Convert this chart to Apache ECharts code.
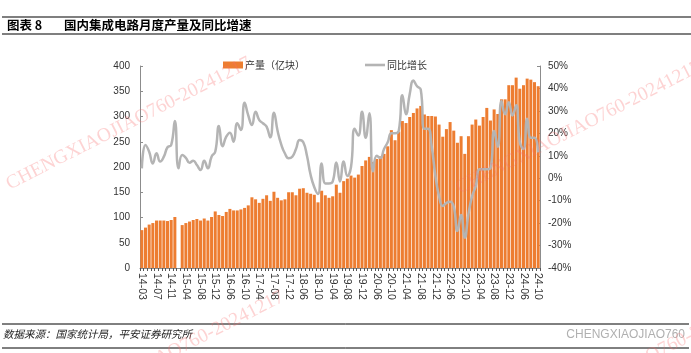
<!DOCTYPE html>
<html>
<head>
<meta charset="utf-8">
<script src="https://cdn.jsdelivr.net/npm/echarts@6/dist/echarts.min.js"></script>
<style>
  html, body { margin: 0; padding: 0; background: #fff; }
  #chart { width: 691px; height: 353px; }
</style>
</head>
<body>
<div id="chart"></div>
<script>
// 月份（每年 1-2 月合并不单列，15-02 只有同比）
const months = [
  '14-03','14-04','14-05','14-06','14-07','14-08','14-09','14-10','14-11','14-12',
  '15-02',
  '15-03','15-04','15-05','15-06','15-07','15-08','15-09','15-10','15-11','15-12',
  '16-03','16-04','16-05','16-06','16-07','16-08','16-09','16-10','16-11','16-12',
  '17-03','17-04','17-05','17-06','17-07','17-08','17-09','17-10','17-11','17-12',
  '18-03','18-04','18-05','18-06','18-07','18-08','18-09','18-10','18-11','18-12',
  '19-03','19-04','19-05','19-06','19-07','19-08','19-09','19-10','19-11','19-12',
  '20-03','20-04','20-05','20-06','20-07','20-08','20-09','20-10','20-11','20-12',
  '21-03','21-04','21-05','21-06','21-07','21-08','21-09','21-10','21-11','21-12',
  '22-03','22-04','22-05','22-06','22-07','22-08','22-09','22-10','22-11','22-12',
  '23-03','23-04','23-05','23-06','23-07','23-08','23-09','23-10','23-11','23-12',
  '24-03','24-04','24-05','24-06','24-07','24-08','24-09','24-10'
];
// 产量（亿块）
const output = [
  75, 80, 86, 89, 94, 94, 94, 93, 95, 101,
  null,
  85, 89, 92, 95, 97, 94, 98, 94, 101, 112,
  105, 103, 111, 117, 114, 114, 116, 119, 124, 140,
  136, 129, 137, 144, 133, 151, 139, 134, 136, 150,
  150, 144, 157, 158, 149, 147, 145, 130, 153, 144,
  139, 142, 165, 149, 172, 177, 183, 179, 185, 202,
  213, 220, 210, 216, 221, 226, 241, 273, 253, 270,
  291, 287, 299, 307, 316, 321, 304, 301, 301, 300,
  284, 260, 275, 289, 272, 248, 261, 226, 261, 284,
  294, 282, 299, 317, 292, 314, 305, 334, 334, 362,
  362, 377, 355, 362, 375, 373, 368, 360
];
// 同比增长（%）
const yoy = [
  4.4, 14.8, 11.8, 6.6, 11.1, 7.4, 9.6, 13.8, 14.8, 25.5,
  4.4,
  10.3, 9.1, 6.9, 7.8, 5.9, 3.7, 7.8, 4.4, 9.6, 11.8,
  23.3, 14.3, 18.5, 20.3, 16.3, 24.5, 21.5, 33.6, 28, 23.7,
  29.6, 25.9, 24.5, 23, 18.2, 29.2, 21, 15, 11, 8.9,
  9.6, 13, 17, 16, 10, 1.4, -4, -7, 6.6, -2.3,
  -2.3, -1.5, 7, -1.5, 7.5, 1, 5, 22, 19, 29.6,
  18, 29, 3, 10, 9, 13, 16, 20, 20, 21,
  37, 28.5, 37.5, 43.5, 41, 39.5, 22, 22, 14, 1,
  -8, -12.4, -11, -10.5, -12.7, -23.5, -16.4, -26.5, -16, -8,
  -3.5, 4, 4, 4, 4.5, 21, 14, 34.4, 28.5, 33.9,
  28, 32.5, 16, 13, 26.5, 18, 18, 11.5
];

const orange = '#ED7D31';
const grey = '#B4B4B4';
const axisGrey = '#8C8C8C';
const wmText = 'CHENGXIAOJIAO760-20241217';
const wmStyle = { text: wmText, fill: 'rgba(250,110,110,0.3)', font: '19.5px "Liberation Serif"', textVerticalAlign: 'bottom' };

var myChart = echarts.init(document.getElementById('chart'));
myChart.setOption({
  animation: false,
  textStyle: { fontFamily: '"Liberation Sans", Arial, sans-serif', color: '#333' },
  grid: { left: 140, right: 151, top: 66, bottom: 85 },
  legend: {
    left: 223, top: 60, padding: 0,
    itemGap: 60, itemWidth: 20, itemHeight: 7,
    textStyle: { fontSize: 10, color: '#333', fontFamily: '"Noto Sans CJK SC"', padding: [0, 0, 0, -3] },
    data: [
      { name: '产量（亿块）', icon: 'rect' },
      { name: '同比增长', icon: 'path://M0,0H20V2.6H0Z' }
    ]
  },
  xAxis: {
    type: 'category',
    data: months,
    axisLine: { lineStyle: { color: axisGrey } },
    axisTick: { show: true, interval: 0, length: 3, lineStyle: { color: '#555' } },
    axisLabel: { interval: 3, rotate: -90, fontSize: 10.5, color: '#333', margin: 5 }
  },
  yAxis: [{
    type: 'value', min: 0, max: 400, interval: 50,
    axisLine: { show: true, lineStyle: { color: axisGrey } },
    axisTick: { show: true, inside: true, length: 3, lineStyle: { color: axisGrey } },
    splitLine: { show: false },
    axisLabel: { fontSize: 10, color: '#333', margin: 10 }
  }, {
    type: 'value', min: -40, max: 50, interval: 10,
    axisLine: { show: true, lineStyle: { color: axisGrey } },
    axisTick: { show: true, inside: true, length: 3, lineStyle: { color: axisGrey } },
    splitLine: { show: false },
    axisLabel: { fontSize: 10, color: '#333', margin: 8, formatter: '{value}%' }
  }],
  series: [{
    name: '产量（亿块）',
    type: 'bar',
    data: output,
    barCategoryGap: '18%',
    itemStyle: { color: orange }
  }, {
    name: '同比增长',
    type: 'line',
    yAxisIndex: 1,
    data: yoy,
    smooth: true,
    symbol: 'none',
    lineStyle: { color: grey, width: 2.5 },
    itemStyle: { color: grey },
    z: 3
  }],
  graphic: [
    { type: 'line', shape: { x1: 2, y1: 17, x2: 691, y2: 17 }, style: { stroke: '#000', lineWidth: 1.2 } },
    { type: 'line', shape: { x1: 2, y1: 34, x2: 691, y2: 34 }, style: { stroke: '#000', lineWidth: 1.2 } },
    { type: 'text', left: 7, top: 19, style: { text: '图表 8', font: 'bold 12.5px "Noto Sans CJK SC"', fill: '#000' } },
    { type: 'text', left: 64, top: 19, style: { text: '国内集成电路月度产量及同比增速', font: 'bold 12.5px "Noto Sans CJK SC"', fill: '#000' } },
    { type: 'line', shape: { x1: 2, y1: 324, x2: 689, y2: 324 }, style: { stroke: '#000', lineWidth: 1 } },
    { type: 'line', shape: { x1: 2, y1: 348, x2: 689, y2: 348 }, style: { stroke: '#000', lineWidth: 1 } },
    { type: 'text', left: 3, top: 329, style: { text: '数据来源：国家统计局，平安证券研究所', font: 'italic 10.5px "Noto Sans CJK SC"', fill: '#222' } },
    { type: 'text', right: 6, top: 329, style: { text: 'CHENGXIAOJIAO760', font: '12px "Liberation Sans"', fill: '#B0B0B0' } },
    { type: 'text', x: 12, y: 194, rotation: 0.47, z: 100, style: wmStyle },
    { type: 'text', x: 462, y: 198, rotation: 0.47, z: 100, style: wmStyle },
    { type: 'text', x: 45, y: 428, rotation: 0.47, z: 100, style: wmStyle },
    { type: 'text', x: 523, y: 432, rotation: 0.47, z: 100, style: wmStyle }
  ]
});
</script>
</body>
</html>
